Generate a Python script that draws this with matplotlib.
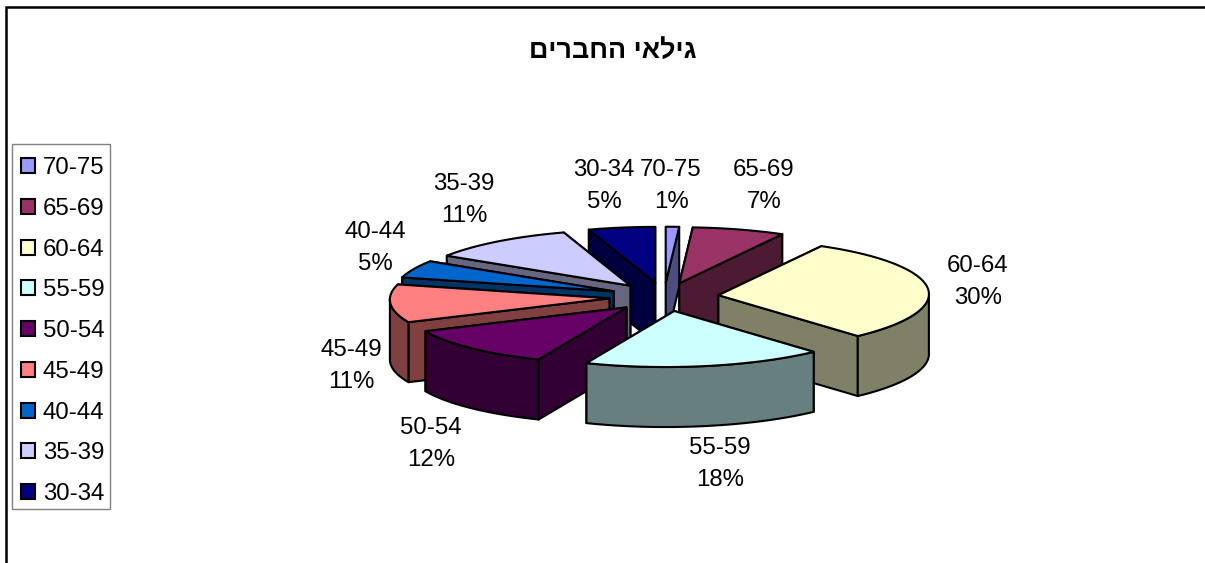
import numpy as np
import matplotlib
matplotlib.use("Agg")
import matplotlib.pyplot as plt
from matplotlib.patches import Patch, Polygon, Rectangle

plt.rcParams["font.family"] = ["Liberation Sans", "DejaVu Sans"]

# Datos del grafico, en el orden de las porciones (sentido horario desde arriba)
categorias = ["70-75", "65-69", "60-64", "55-59", "50-54", "45-49", "40-44", "35-39", "30-34"]
porcentajes = [1, 7, 30, 18, 12, 11, 5, 11, 5]
colores = ["#9999FF", "#993366", "#FFFFCC", "#CCFFFF", "#660066", "#FF8080", "#0066CC", "#CCCCFF", "#000080"]
titulo = "גילאי החברים"

# Geometria del pastel en pixeles de la imagen
CX, CY = 664, 297
RX, RY = 215, 56
PROFUNDIDAD = 60
EXPLOSION = 0.255
# la perspectiva de Excel corre el frente hacia la izquierda
CORRIMIENTO = 9

# Centro de cada etiqueta
pos_etiquetas = [(671, 186), (764, 186), (978, 282), (720, 464), (431, 444),
                 (351, 366), (375, 248), (464, 200), (604, 186)]


def oscurecer(color):
    r, g, b, _ = matplotlib.colors.to_rgba(color)
    return (r / 2, g / 2, b / 2)


def punto(ang, ox, oy):
    x = ox + RX * np.sin(ang) - CORRIMIENTO * (1 - np.cos(ang)) / 2
    y = oy - RY * np.cos(ang)
    return x, y


def dibujar_porcion(ax, ini, fin, color, z):
    medio = (ini + fin) / 2
    ox = CX + EXPLOSION * RX * np.sin(medio)
    oy = CY - EXPLOSION * RY * np.cos(medio)
    lado = oscurecer(color)
    estilo = dict(edgecolor="black", linewidth=1.5, joinstyle="round", zorder=z)

    angs = np.linspace(ini, fin, 80)
    xs, ys = punto(angs, ox, oy)

    # caras de corte, primero la de atras
    caras = sorted([(xs[0], ys[0]), (xs[-1], ys[-1])], key=lambda p: p[1])
    for px, py in caras:
        ax.add_patch(Polygon([(ox, oy), (px, py), (px, py + PROFUNDIDAD), (ox, oy + PROFUNDIDAD)],
                             facecolor=lado, **estilo))

    # pared curva, solo la parte que mira al frente
    frente = np.linspace(max(ini, np.pi / 2), min(fin, 3 * np.pi / 2), 80)
    if frente[-1] > frente[0]:
        fx, fy = punto(frente, ox, oy)
        pared = list(zip(fx, fy)) + list(zip(fx[::-1], fy[::-1] + PROFUNDIDAD))
        ax.add_patch(Polygon(pared, facecolor=lado, **estilo))

    # tapa
    ax.add_patch(Polygon([(ox, oy)] + list(zip(xs, ys)), facecolor=color, **estilo))


fig = plt.figure(figsize=(12.05, 5.63), dpi=100)
ax = fig.add_axes([0, 0, 1, 1])
ax.set_xlim(0, 1205)
ax.set_ylim(563, 0)
ax.axis("off")

# marco del area del grafico, solo se ven el lado izquierdo y el superior
ax.add_patch(Rectangle((5.5, 7), 1300, 700, facecolor="white", edgecolor="black", linewidth=1.8, zorder=0))

acum = np.cumsum([0] + porcentajes) / sum(porcentajes) * 2 * np.pi
medios = (acum[:-1] + acum[1:]) / 2

# se pinta de atras hacia adelante
orden = np.argsort(-np.cos(medios))
for z, i in enumerate(orden):
    dibujar_porcion(ax, acum[i], acum[i + 1], colores[i], z + 1)

for cat, pct, (x, y) in zip(categorias, porcentajes, pos_etiquetas):
    ax.text(x, y, f"{cat}\n{pct}%", ha="center", va="center", fontsize=17.3,
            linespacing=1.6, color="black", zorder=30)

# matplotlib no aplica bidi, el hebreo se pasa en orden visual
ax.text(612.5, 51, titulo[::-1], ha="center", va="center", fontsize=19.4,
        fontweight="bold", color="black", zorder=30)

# caja de la leyenda aparte, para ajustarla al pixel
ax.add_patch(Rectangle((11.5, 143.5), 98, 365, facecolor="white", edgecolor="#808080", linewidth=1.0, zorder=35))
handles = [Patch(facecolor=c, edgecolor="black", linewidth=1.5) for c in colores]
leg = ax.legend(handles, categorias, loc="upper left", bbox_to_anchor=(11 / 1205, 1 - 147 / 563),
                borderaxespad=0, fontsize=17.3, frameon=False, handlelength=0.58, handleheight=0.58,
                handletextpad=0.33, labelspacing=0.78, borderpad=0.42)
leg.set_zorder(40)

fig.savefig("out.png", dpi=100, facecolor="white")
